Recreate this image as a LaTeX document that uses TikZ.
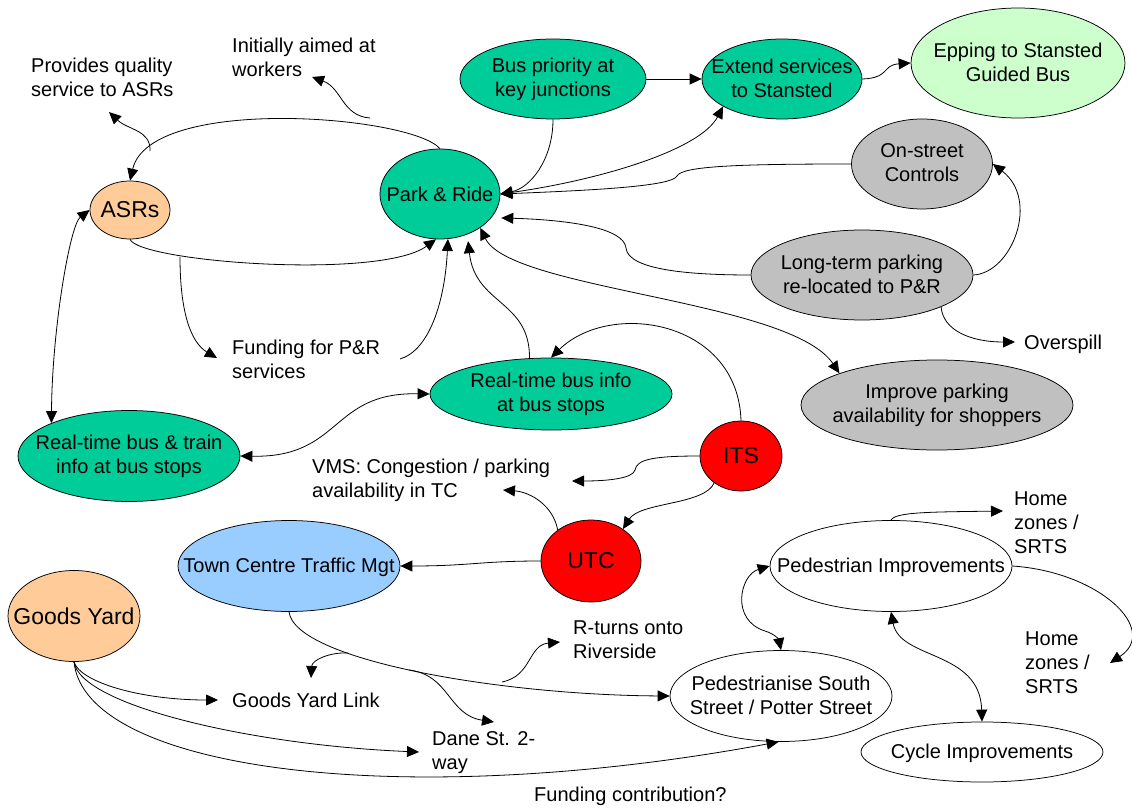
\documentclass[tikz,border=0pt]{standalone}
\usepackage{fontspec}
\setmainfont{Liberation Sans}
\usetikzlibrary{arrows.meta,shapes.geometric}
\definecolor{cTeal}{HTML}{00CC99}
\definecolor{cPeach}{HTML}{FFCC99}
\definecolor{cLGreen}{HTML}{CCFFCC}
\definecolor{cGray}{HTML}{C0C0C0}
\definecolor{cRed}{HTML}{FF0000}
\definecolor{cBlue}{HTML}{99CCFF}
\newcommand\mystrut{\rule[-2pt]{0pt}{20pt}}
\begin{document}
\begin{tikzpicture}[x=1pt,y=-1pt,
  ell/.style={ellipse, draw, line width=0.75pt, inner sep=0pt},
  lab/.style={font=\fontsize{20}{24}\selectfont, align=center, inner sep=0pt,
    execute at begin node=\mystrut, execute at end node=\mystrut},
  big/.style={font=\fontsize{23}{27}\selectfont, inner sep=0pt},
  txt/.style={font=\fontsize{20}{24}\selectfont, align=left, inner sep=0pt, anchor=west,
    execute at begin node=\mystrut, execute at end node=\mystrut},
  arr/.style={-{Triangle[length=12pt,width=11pt]}, line width=0.8pt},
  barr/.style={{Triangle[length=12pt,width=11pt]}-{Triangle[length=12pt,width=11pt]}, line width=0.8pt}]
\useasboundingbox (0,0) rectangle (1132,810);

% ellipse nodes
\node[ell, fill=cPeach, minimum width=80pt, minimum height=58pt, label={[big]center:ASRs}] (ASRs) at (130,210) {};
\node[ell, fill=cTeal, minimum width=120pt, minimum height=90pt, label={[lab]center:Park \& Ride}] (PR) at (440,194) {};
\node[ell, fill=cTeal, minimum width=186pt, minimum height=80pt, label={[lab]center:Bus priority at\\key junctions}] (BP) at (553,79) {};
\node[ell, fill=cTeal, minimum width=160pt, minimum height=80pt, label={[lab]center:Extend services\\to Stansted}] (EX) at (782,79) {};
\node[ell, fill=cLGreen, minimum width=214pt, minimum height=110pt, label={[lab]center:Epping to Stansted\\Guided Bus}] (EP) at (1018,63) {};
\node[ell, fill=cGray, minimum width=141pt, minimum height=90pt, label={[lab]center:On-street\\Controls}] (OS) at (922,164) {};
\node[ell, fill=cGray, minimum width=222pt, minimum height=90pt, label={[lab]center:Long-term parking\\re-located to P\&R}] (LT) at (862,275) {};
\node[ell, fill=cGray, minimum width=272pt, minimum height=90pt, label={[lab]center:Improve parking\\availability for shoppers}] (IP) at (937,405) {};
\node[ell, fill=cTeal, minimum width=242pt, minimum height=72pt, label={[lab]center:Real-time bus info\\at bus stops}] (RTI) at (551,394) {};
\node[ell, fill=cTeal, minimum width=222pt, minimum height=91pt, label={[lab]center:Real-time bus \& train\\info at bus stops}] (RTBT) at (129,456) {};
\node[ell, fill=cRed, minimum width=82pt, minimum height=70pt, label={[big]center:ITS}] (ITS) at (741,456) {};
\node[ell, fill=cRed, minimum width=100pt, minimum height=82pt, label={[big]center:UTC}] (UTC) at (591,561) {};
\node[ell, fill=cBlue, minimum width=222pt, minimum height=91pt, label={[lab]center:Town Centre Traffic Mgt}] (TCTM) at (289,566) {};
\node[ell, fill=cPeach, minimum width=132pt, minimum height=91pt, label={[big]center:Goods Yard}] (GY) at (74,616) {};
\node[ell, fill=white, minimum width=222pt, minimum height=91pt, label={[lab]center:Pedestrianise South\\Street / Potter Street}] (PED) at (781,696) {};
\node[ell, fill=white, minimum width=242pt, minimum height=91pt, label={[lab]center:Pedestrian Improvements}] (PI) at (891,566) {};
\node[ell, fill=white, minimum width=242pt, minimum height=60pt, label={[lab]center:Cycle Improvements}] (CY) at (982,752) {};

% text nodes
\node[txt] (prov) at (31,78.3) {Provides quality\\service to ASRs};
\node[txt] (init) at (232,58.5) {Initially aimed at\\workers};
\node[txt] (fund) at (232,360.5) {Funding for P\&R\\services};
\node[txt] (vms) at (312,480.8) {VMS: Congestion / parking\\availability in TC};
\node[txt] (ovsp) at (1024,342.8) {Overspill};
\node[txt] (gyl) at (232,699.5) {Goods Yard Link};
\node[txt] (dane) at (432,752.8) {Dane St. 2-\\way};
\node[txt] (rturn) at (573,641) {R-turns onto\\Riverside};
\node[txt] (fcon) at (534,794.5) {Funding contribution?};
\node[txt] (hz1) at (1014,523.5) {Home\\zones /\\SRTS};
\node[txt] (hz2) at (1025,663.3) {Home\\zones /\\SRTS};

% free connector ends
\coordinate (provT) at (109,112);
\coordinate (wkT) at (312,77);
\coordinate (wkS) at (370,118);
\coordinate (arcQ) at (150,151);
\coordinate (arcF) at (180,257);
\coordinate (fundT) at (217,358);
\coordinate (fundS) at (400,359);
\coordinate (ovT) at (1015,342);
\coordinate (vmsT1) at (572,481);
\coordinate (vmsT2) at (503,490);
\coordinate (b1) at (348,653);
\coordinate (b2) at (409,670);
\coordinate (b3) at (502,682);
\coordinate (gylT) at (311,678);
\coordinate (daneT) at (494,722);
\coordinate (rtT) at (560,642);
\coordinate (gylL) at (218,700);
\coordinate (daneL) at (419,752);
\coordinate (hz1T) at (1003,511);
\coordinate (hz2T) at (1110,663);

% connectors
\draw[arr] (PR.north) .. controls (410,115) and (150,95) .. (ASRs.north);
\draw[arr] (arcQ) .. controls (151,130) and (128,130) .. (provT);
\draw[arr] (wkS) .. controls (342,116) and (342,88) .. (wkT);
\draw[arr] (ASRs.south) .. controls (140,262) and (380,280) .. (PR.-95);
\draw[arr] (arcF) .. controls (180,310) and (190,342) .. (fundT);
\draw[arr] (fundS) .. controls (430,350) and (445,300) .. (PR.-80);
\draw[barr] (ASRs.west) .. controls (70,225) and (52,330) .. (RTBT.157);
\draw[arr] (BP.south) .. controls (553,160) and (530,188) .. (PR.east);
\draw[barr] (PR.east) .. controls (600,180) and (700,150) .. (EX.-155);
\draw[arr] (BP.east) -- (EX.west);
\draw[arr] (EX.east) .. controls (890,78) and (882,65) .. (EP.west);
\draw[arr] (OS.west) .. controls (740,164) and (682,166) .. (677,176)
   .. controls (672,186) and (600,190) .. (PR.east);
\draw[arr] (LT.west) .. controls (690,275) and (628,270) .. (626,248)
   .. controls (624,228) and (570,220) .. ([xshift=10pt]PR.-25);
\draw[arr] (LT.east) .. controls (1012,273) and (1040,200) .. (OS.east);
\draw[arr] (LT.-22) .. controls (943,330) and (970,342) .. (ovT);
\draw[barr] (PR.-40) .. controls (510,290) and (790,300) .. (IP.162);
\draw[arr] (RTI.121) .. controls (530,300) and (475,305) .. ([yshift=-7pt]PR.-55);
\draw[arr] (ITS.north) .. controls (738,320) and (610,300) .. (RTI.north);
\draw[barr] (RTI.west) .. controls (330,392) and (342,458) .. (RTBT.east);
\draw[arr] (ITS.west) .. controls (650,456) and (637,460) .. (635,470)
   .. controls (633,478) and (610,481) .. (vmsT1);
\draw[arr] (UTC.137) .. controls (553,505) and (530,492) .. (vmsT2);
\draw[arr] (ITS.-135) .. controls (705,505) and (640,502) .. (UTC.45);
\draw[arr] (UTC.west) .. controls (480,561) and (470,566) .. (TCTM.east);
\draw[arr] (TCTM.south) .. controls (295,660) and (500,695) .. (PED.west);
\draw[arr] (b1) .. controls (330,652) and (312,660) .. (gylT);
\draw[arr] (b2) .. controls (450,675) and (448,715) .. (daneT);
\draw[arr] (b3) .. controls (532,676) and (528,645) .. (rtT);
\draw[arr] (GY.south) .. controls (80,682) and (140,700) .. (gylL);
\draw[arr] (GY.south) .. controls (80,705) and (250,745) .. (daneL);
\draw[arr] (GY.south) .. controls (85,770) and (400,812) .. (PED.-93);
\draw[arr] (PI.north) .. controls (895,512) and (930,512) .. (hz1T);
\draw[arr] (PI.east) .. controls (1100,572) and (1160,630) .. (hz2T);
\draw[barr] (PI.west) .. controls (740,575) and (730,620) .. (765,631)
   .. controls (775,634) and (779,640) .. (PED.north);
\draw[barr] (PI.south) .. controls (900,660) and (980,650) .. (CY.north);
\end{tikzpicture}
\end{document}
